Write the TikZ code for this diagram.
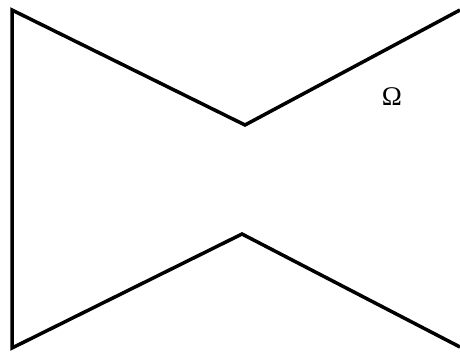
\documentclass[tikz,border=0pt]{standalone}
\usepackage{fontspec}
\setmainfont{Liberation Serif}
\usepackage{tikz}
\usetikzlibrary{positioning}

\begin{document}
\begin{tikzpicture}[x=1pt,y=-1pt,every node/.style={font=\fontsize{27}{30}\selectfont}]
\useasboundingbox (0,0) rectangle (460,351);
% boundary of the domain, open on the right
\draw[line width=3.5pt,line join=miter] (460,10) -- (245,125) -- (12,10) -- (12,348) -- (242,234) -- (460,347);
% domain label
\node (omega) at (392,97) {Ω};
\end{tikzpicture}
\end{document}
